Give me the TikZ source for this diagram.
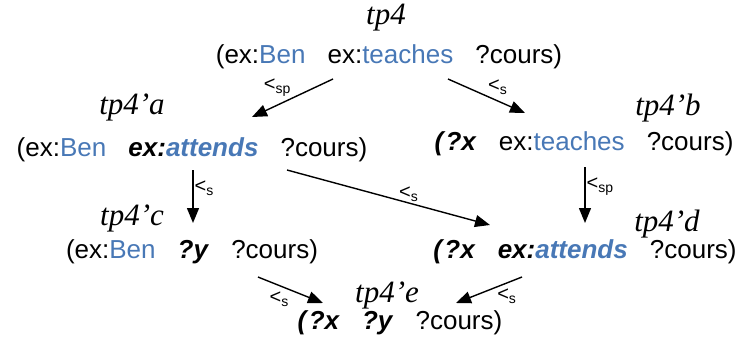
\documentclass[tikz,border=0pt]{standalone}
\usepackage{fontspec}
\setmainfont{Liberation Sans}
\newfontfamily\serifit{Liberation Serif}
\usepackage{xcolor}
\usepackage{tikz}
\usetikzlibrary{arrows.meta, calc}

\definecolor{exblue}{RGB}{72,120,182}
\newcommand{\exres}[1]{ex:\textcolor{exblue}{#1}}
\newcommand{\exbold}[1]{\textbf{\textit{ex:\textcolor{exblue}{#1}}}}
\newcommand{\qvar}[1]{\textbf{\textit{?#1}}}
\newcommand{\gap}{\hspace{0.85em}}

\begin{document}
\begin{tikzpicture}[x=1pt, y=-1pt,
  triple/.style={anchor=base, inner sep=0pt,
                 font=\fontsize{26}{32}\selectfont},
  tpname/.style={anchor=base, inner sep=0pt,
                 font=\serifit\itshape\fontsize{31}{38}\selectfont},
  arr/.style={-{Triangle[length=15pt, width=12pt]}, line width=1.4pt},
  rellbl/.style={font=\fontsize{20}{20}\selectfont, inner sep=1pt}
]
\useasboundingbox (0,0) rectangle (740,354);

% triple patterns
\node[triple] (t4)  at (389,63)  {(\exres{Ben}\gap\exres{teaches}\gap?cours)};
\node[triple] (t4a) at (192,156) {(\exres{Ben}\gap\exbold{attends}\gap?cours)};
\node[triple] (t4b) at (584,150) {\textbf{\textit{(}}\qvar{x}\gap\exres{teaches}\gap?cours)};
\node[triple] (t4c) at (192,258) {(\exres{Ben}\gap\qvar{y}\gap?cours)};
\node[triple] (t4d) at (585,258) {\textbf{\textit{(}}\qvar{x}\gap\exbold{attends}\gap?cours)};
\node[triple] (t4e) at (400,329) {\textbf{\textit{(}}\qvar{x}\gap\qvar{y}\gap?cours)};

% names
\node[tpname] (n4)  at (386,24)  {tp4};
\node[tpname] (n4a) at (132,114) {tp4’a};
\node[tpname] (n4b) at (668,115) {tp4’b};
\node[tpname] (n4c) at (132,225) {tp4’c};
\node[tpname] (n4d) at (667,231) {tp4’d};
\node[tpname] (n4e) at (387,302) {tp4’e};

% relations
\draw[arr] ($(t4.base)+(-56,16)$) -- ($(t4a.base)+(60,-39)$)
  node[midway, above left, rellbl] {<\textsubscript{sp}};
\draw[arr] ($(t4.base)+(59,16)$) -- ($(t4b.base)+(-59,-37)$)
  node[midway, above right, rellbl] {<\textsubscript{s}};
\draw[arr] ($(t4a.base)+(1,14)$) -- ($(t4c.base)+(1,-35)$)
  node[pos=0.35, right, rellbl] {<\textsubscript{s}};
\draw[arr] ($(t4a.base)+(95,14)$) -- ($(t4d.base)+(-95,-33)$)
  node[pos=0.6, above, rellbl] {<\textsubscript{s}};
\draw[arr] ($(t4b.base)+(1,17)$) -- ($(t4d.base)+(0,-35)$)
  node[pos=0.35, right, rellbl] {<\textsubscript{sp}};
\draw[arr] ($(t4c.base)+(66,19)$) -- ($(t4e.base)+(-77,-26)$)
  node[midway, below left, rellbl] {<\textsubscript{s}};
\draw[arr] ($(t4d.base)+(-63,19)$) -- ($(t4e.base)+(56,-26)$)
  node[pos=0.4, below right, rellbl] {<\textsubscript{s}};
\end{tikzpicture}
\end{document}
